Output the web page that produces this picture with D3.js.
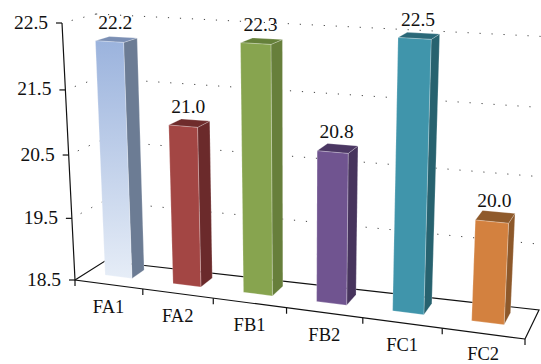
<!DOCTYPE html>
<html>
<head>
<meta charset="utf-8">
<script src="https://cdn.jsdelivr.net/npm/d3@7/dist/d3.min.js"></script>
<style>
  html, body { margin: 0; padding: 0; background: #fff; }
  svg { display: block; }
  text { font-family: "Liberation Serif", "Times New Roman", serif; fill: #111; }
</style>
</head>
<body>
<svg id="chart" width="541" height="364"></svg>
<script>
// Series
const categories = ["FA1", "FA2", "FB1", "FB2", "FC1", "FC2"];
const values = [22.2, 21.0, 22.3, 20.8, 22.5, 20.0];
const valueLabels = ["22.2", "21.0", "22.3", "20.8", "22.5", "20.0"];
const valueTicks = [18.5, 19.5, 20.5, 21.5, 22.5];
const tickLabels = ["18.5", "19.5", "20.5", "21.5", "22.5"];

// Bar colours: front, side and cap
const frontColors = ["url(#iceFront)", "#a34644", "#87a44f", "#705490", "#4095ab", "#d3813f"];
const sideColors = ["#6c7c94", "#6b2a2b", "#677f3b", "#47345d", "#27626f", "#8d582a"];
const capColors = ["#7b8fb4", "#6f2c2c", "#65803a", "#4b3763", "#2a6878", "#8f5a2b"];

const HEIGHT = 364;

// Wall corners of the 3-D box, given as top-left, top-right, bottom-right, bottom-left
const frontWall = [[62, 23], [539, 51], [525, 339], [75, 280]];
const backWall = [[96, 14], [553, 37], [539, 310], [105, 261]];
const barDepth = [0.38, 0.80];

// Projective map from the unit square (u right, v up from the bottom) onto a quad
function homography([p0, p1, p2, p3]) {
  const dx1 = p1[0] - p2[0], dx2 = p3[0] - p2[0], sx = p0[0] - p1[0] + p2[0] - p3[0];
  const dy1 = p1[1] - p2[1], dy2 = p3[1] - p2[1], sy = p0[1] - p1[1] + p2[1] - p3[1];
  const det = dx1 * dy2 - dx2 * dy1;
  const g = (sx * dy2 - dx2 * sy) / det;
  const h = (dx1 * sy - sx * dy1) / det;
  const a = p1[0] - p0[0] + g * p1[0], b = p3[0] - p0[0] + h * p3[0], c = p0[0];
  const d = p1[1] - p0[1] + g * p1[1], e = p3[1] - p0[1] + h * p3[1], f = p0[1];
  return (s, t) => {
    const w = g * s + h * t + 1;
    return [(a * s + b * t + c) / w, (d * s + e * t + f) / w];
  };
}

const onFront = homography(frontWall);
const onBack = homography(backWall);

// depth 0 is the front wall, depth 1 the back wall; v is measured upward
function project(u, v, depth) {
  const a = onFront(u, 1 - v), b = onBack(u, 1 - v);
  return [a[0] + (b[0] - a[0]) * depth, a[1] + (b[1] - a[1]) * depth];
}

const x = d3.scaleBand().domain(categories).range([-0.003, 0.997]).paddingInner(0.6).paddingOuter(0.3);
const slot = d3.scaleBand().domain(categories).range([0, 1]);
const y = d3.scaleLinear().domain([18.5, 22.5]).range([0, 1]);

const svg = d3.select("#chart");
const path = d3.line();

const grad = svg.append("defs").append("linearGradient")
  .attr("id", "iceFront").attr("x1", 0).attr("x2", 0).attr("y1", 0).attr("y2", 1);
grad.append("stop").attr("offset", 0).attr("stop-color", "#9bb3dd");
grad.append("stop").attr("offset", 1).attr("stop-color", "#e6edf7");

// Dotted gridlines: along the left wall, then along the back wall
const grid = svg.append("g")
  .attr("fill", "none").attr("stroke", "#444").attr("stroke-width", 1);
valueTicks.filter(t => t > valueTicks[0]).forEach(t => {
  grid.append("path")
    .attr("d", path([project(0, y(t), 0), project(0, y(t), 1)]))
    .attr("stroke-dasharray", "1.2 10.8").attr("stroke-dashoffset", -10);
  grid.append("path")
    .attr("d", path([project(0, y(t), 1), project(1, y(t), 1)]))
    .attr("stroke-dasharray", "1.2 10.8");
});

// Solid floor edges and the value axis
const frame = svg.append("g").attr("fill", "none").attr("stroke", "#111").attr("stroke-width", 1.2);
frame.append("path").attr("d", path([project(0, 0, 0), project(0, 0, 1), project(1, 0, 1), project(1, 0, 0)]));
frame.append("path").attr("d", path([project(0, 1, 0), project(0, 0, 0), project(1, 0, 0)]));

valueTicks.forEach((t, i) => {
  const p = project(0, y(t), 0);
  frame.append("line")
    .attr("x1", p[0] - 6).attr("x2", p[0]).attr("y1", p[1]).attr("y2", p[1]);
  svg.append("text")
    .attr("x", p[0] - 14).attr("y", p[1] + 5.5)
    .attr("text-anchor", "end").attr("font-size", 19.5)
    .text(tickLabels[i]);
});

d3.range(categories.length + 1).forEach(i => {
  const p = project(i / categories.length, 0, 0);
  frame.append("line")
    .attr("x1", p[0]).attr("x2", p[0]).attr("y1", p[1]).attr("y2", p[1] + 6);
});

// Category labels, centred under each slot of the front edge and kept inside the page
categories.forEach(c => {
  const p = project(slot(c) + slot.bandwidth() / 2, 0, 0);
  svg.append("text")
    .attr("x", p[0]).attr("y", Math.min(p[1] + 28.5, HEIGHT - 4.5))
    .attr("text-anchor", "middle").attr("font-size", 18.5)
    .text(c);
});

// Bars
const edge = "rgba(255,255,255,0.4)";
const bars = svg.append("g").selectAll("g").data(categories).join("g");
bars.each(function (c, i) {
  const g = d3.select(this);
  const u0 = x(c), u1 = x(c) + x.bandwidth();
  const v1 = y(values[i]), v0 = y.range()[0];
  const [z0, z1] = barDepth;
  const side = [project(u1, v1, z0), project(u1, v1, z1), project(u1, v0, z1), project(u1, v0, z0)];
  const cap = [project(u0, v1, z0), project(u1, v1, z0), project(u1, v1, z1), project(u0, v1, z1)];
  const front = [project(u0, v1, z0), project(u1, v1, z0), project(u1, v0, z0), project(u0, v0, z0)];
  g.append("path").attr("d", path(side) + "Z").attr("fill", sideColors[i]).attr("stroke", edge).attr("stroke-width", 0.6);
  g.append("path").attr("d", path(cap) + "Z").attr("fill", capColors[i]).attr("stroke", edge).attr("stroke-width", 0.6);
  g.append("path").attr("d", path(front) + "Z").attr("fill", frontColors[i]).attr("stroke", edge).attr("stroke-width", 0.6);
  const mid = project((u0 + u1) / 2, v1, (z0 + z1) / 2);
  g.append("text")
    .attr("x", mid[0] - 1).attr("y", mid[1] - 10)
    .attr("text-anchor", "middle").attr("font-size", 19.5)
    .text(valueLabels[i]);
});
</script>
</body>
</html>
